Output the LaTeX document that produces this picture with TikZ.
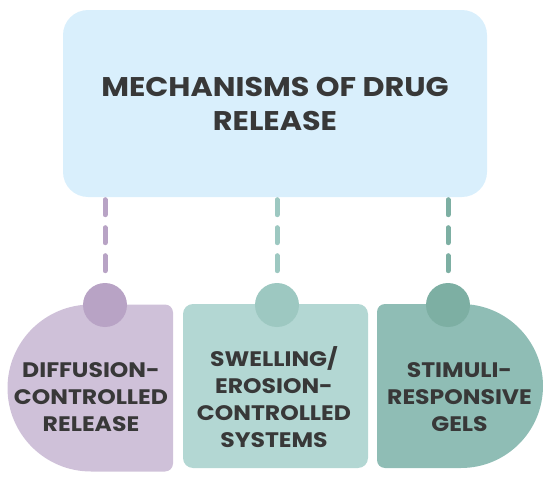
\documentclass[tikz,border=0pt]{standalone}
\usepackage{fontspec}
\setmainfont{Poppins}[FakeStretch=1.12]
\definecolor{topfill}{HTML}{D9EFFC}
\definecolor{boxa}{HTML}{CFC1D9}
\definecolor{circa}{HTML}{B8A3C5}
\definecolor{boxb}{HTML}{B3D7D3}
\definecolor{circb}{HTML}{9DC8C1}
\definecolor{boxc}{HTML}{8FBDB5}
\definecolor{circc}{HTML}{7DAFA3}
\definecolor{txt}{HTML}{383838}
\begin{document}
\begin{tikzpicture}[x=1pt,y=-1pt,
  titletxt/.style={text=txt,font=\fontsize{27}{34}\selectfont\bfseries,align=center},
  boxtxt/.style={text=txt,font=\fontsize{21}{27}\selectfont\bfseries,align=center},
  knob/.style={circle,inner sep=0pt,minimum size=44pt},
  dashline/.style={line width=5pt,line cap=round,dash pattern=on 15pt off 13pt}]
\useasboundingbox (0,0) rectangle (550,479);
% top box
\node[fill=topfill,rounded corners=25pt,minimum width=424pt,minimum height=187pt,inner sep=0pt] (top) at (275,103.5) {};
\node[titletxt] (title) at (275,104) {MECHANISMS OF DRUG\\RELEASE};
% bottom shapes
\fill[boxa] (91,304.5) arc[start angle=-90,end angle=-270,radius=83.5] -- (165,471.5) arc[start angle=90,end angle=0,radius=8] -- (173,312.5) arc[start angle=0,end angle=-90,radius=8] -- cycle;
\fill[boxb,rounded corners=10pt] (183,304) rectangle (368,468);
\fill[boxc] (461,304) arc[start angle=-90,end angle=90,radius=82] -- (385,468) arc[start angle=90,end angle=180,radius=8] -- (377,312) arc[start angle=180,end angle=270,radius=8] -- cycle;
% knobs
\node[knob,fill=circa] (ca) at (105,305) {};
\node[knob,fill=circb] (cb) at (277,305) {};
\node[knob,fill=circc] (cc) at (448,305) {};
% connectors
\draw[dashline,circa] ([yshift=-2.5pt]top.south -| ca) -- (ca.north);
\draw[dashline,circb] ([yshift=-2.5pt]top.south -| cb) -- (cb.north);
\draw[dashline,circc] ([yshift=-2.5pt]top.south -| cc) -- (cc.north);
% labels
\node[boxtxt] (la) at (91,397) {DIFFUSION-\\CONTROLLED\\RELEASE};
\node[boxtxt] (lb) at (274,397) {SWELLING/\\EROSION-\\CONTROLLED\\SYSTEMS};
\node[boxtxt] (lc) at (459.5,397) {STIMULI-\\RESPONSIVE\\GELS};
\end{tikzpicture}
\end{document}
